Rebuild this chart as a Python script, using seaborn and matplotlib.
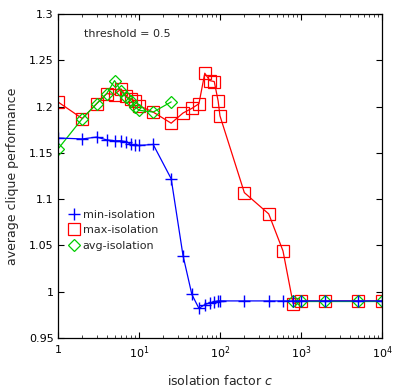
import numpy as np
import pandas as pd
import matplotlib
matplotlib.use("Agg")
import matplotlib.pyplot as plt
import seaborn as sns
from matplotlib.ticker import FixedLocator, FixedFormatter, LogLocator, NullFormatter

# ---- data ----
x_min = [1, 2, 3, 4, 5, 6, 7, 8, 9, 10, 15, 25, 35, 45, 55, 65, 75, 85, 95, 100,
         200, 400, 600, 800, 1000, 2000, 5000, 10000]
y_min = [1.166, 1.165, 1.167, 1.164, 1.163, 1.163, 1.162, 1.159, 1.158, 1.158, 1.159,
         1.122, 1.039, 0.997, 0.982, 0.986, 0.988, 0.989, 0.990, 0.990,
         0.990, 0.990, 0.990, 0.990, 0.990, 0.990, 0.990, 0.990]

x_max = [1, 2, 3, 4, 5, 6, 7, 8, 9, 10, 15, 25, 35, 45, 55, 65, 75, 85, 95, 100,
         200, 400, 600, 800, 1000, 2000, 5000, 10000]
y_max = [1.205, 1.187, 1.203, 1.214, 1.213, 1.219, 1.211, 1.208, 1.206, 1.201, 1.194,
         1.182, 1.193, 1.198, 1.203, 1.236, 1.228, 1.227, 1.206, 1.190,
         1.107, 1.084, 1.044, 0.987, 0.990, 0.990, 0.990, 0.990]

x_avg_a = [1, 2, 3, 4, 5, 6, 7, 8, 9, 10, 15, 25]
y_avg_a = [1.154, 1.187, 1.203, 1.214, 1.228, 1.217, 1.210, 1.206, 1.200, 1.196, 1.194, 1.205]
x_avg_b = [800, 1000, 2000, 5000, 10000]
y_avg_b = [0.990, 0.990, 0.990, 0.990, 0.990]

y_ticks = [0.95, 1.0, 1.05, 1.1, 1.15, 1.2, 1.25, 1.3]
y_tick_labels = ["0.95", "1", "1.05", "1.1", "1.15", "1.2", "1.25", "1.3"]
x_ticks = [1, 10, 100, 1000, 10000]
x_tick_labels = ["1", "$10^1$", "$10^2$", "$10^3$", "$10^4$"]

sns.set_theme(style="white")
plt.rcParams["font.family"] = ["DejaVu Sans"]

fig = plt.figure(figsize=(3.94, 3.88), dpi=100)
ax = fig.add_axes([0.147, 0.129, 0.8225, 0.835])

df_min = pd.DataFrame({"x": x_min, "y": y_min})
df_max = pd.DataFrame({"x": x_max, "y": y_max})
df_avg = pd.DataFrame({"x": x_avg_a + x_avg_b, "y": y_avg_a + y_avg_b,
                       "seg": [0] * len(x_avg_a) + [1] * len(x_avg_b)})

sns.lineplot(data=df_max, x="x", y="y", ax=ax, color="#ff0000", lw=0.9,
             marker="s", markersize=9, markerfacecolor="none", markeredgecolor="#ff0000",
             markeredgewidth=0.9, estimator=None, sort=False, label="max-isolation")
sns.lineplot(data=df_avg, x="x", y="y", units="seg", ax=ax, color="#00cc00", lw=0.9,
             marker="D", markersize=6, markerfacecolor="none", markeredgecolor="#00cc00",
             markeredgewidth=0.9, estimator=None, sort=False, label="avg-isolation")
sns.lineplot(data=df_min, x="x", y="y", ax=ax, color="#0000ff", lw=0.9,
             marker="+", markersize=9, markeredgewidth=1.0, markeredgecolor="#0000ff",
             estimator=None, sort=False, label="min-isolation")

ax.set_xscale("log")
ax.set_xlim(1, 10000)
ax.set_ylim(0.95, 1.3)
ax.xaxis.set_major_locator(FixedLocator(x_ticks))
ax.xaxis.set_major_formatter(FixedFormatter(x_tick_labels))
ax.xaxis.set_minor_locator(LogLocator(base=10, subs=np.arange(2, 10)))
ax.xaxis.set_minor_formatter(NullFormatter())
ax.yaxis.set_major_locator(FixedLocator(y_ticks))
ax.yaxis.set_major_formatter(FixedFormatter(y_tick_labels))

ax.tick_params(which="major", direction="in", length=4, width=0.8, top=True, right=True,
               labelsize=8, colors="black", pad=3)
ax.tick_params(axis="x", which="major", pad=5)
ax.tick_params(which="minor", direction="in", length=2.5, width=0.6, top=True, right=True)
ax.tick_params(axis="both", which="both", bottom=True, left=True)
for s in ax.spines.values():
    s.set_color("black")
    s.set_linewidth(0.9)

ax.set_xlabel("isolation factor $c$", fontsize=9, labelpad=9)
ax.set_ylabel("average clique performance", fontsize=9, labelpad=7)

ax.text(0.08, 0.955, "threshold = 0.5", transform=ax.transAxes, fontsize=8,
        va="top", ha="left")

handles, labels = ax.get_legend_handles_labels()
order = [labels.index("min-isolation"), labels.index("max-isolation"), labels.index("avg-isolation")]
ax.legend([handles[i] for i in order], [labels[i] for i in order],
          loc="upper left", bbox_to_anchor=(0.015, 0.43), frameon=False, fontsize=8,
          handlelength=0.0, handletextpad=0.8, borderaxespad=0.6, labelspacing=0.5)

fig.savefig("out.png", dpi=100)
